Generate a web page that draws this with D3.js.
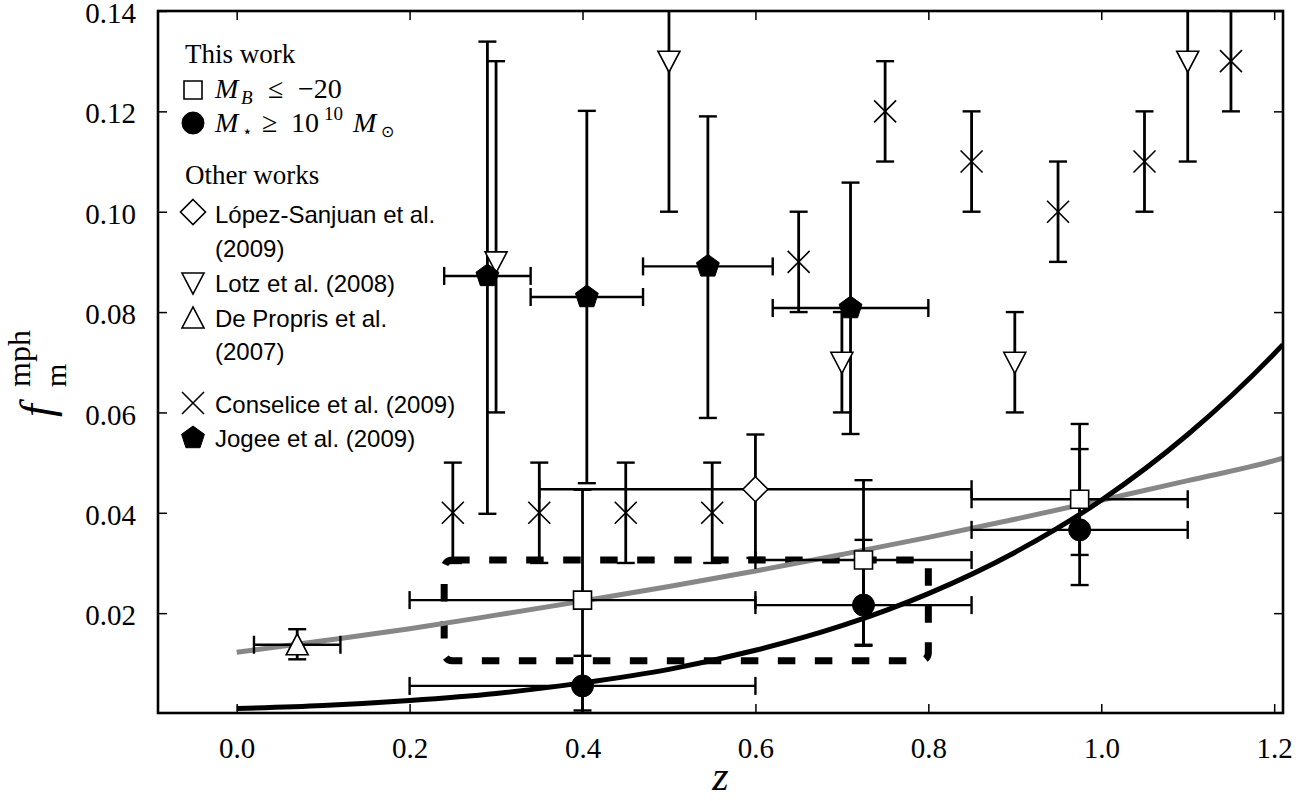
<!DOCTYPE html>
<html>
<head>
<meta charset="utf-8">
<script src="https://cdn.jsdelivr.net/npm/d3@7"></script>
<style>
  body { margin: 0; background: #fff; }
  svg { display: block; }
</style>
</head>
<body>
<svg id="chart"></svg>
<script>
// ---- data ----
var xTicks = [0.0, 0.2, 0.4, 0.6, 0.8, 1.0, 1.2];
var yTicks = [0.02, 0.04, 0.06, 0.08, 0.10, 0.12, 0.14];

// this work, M_B <= -20 (squares)
var sqZ = [0.4, 0.725, 0.975];
var sqF = [0.0226, 0.0306, 0.0427];
var sqFlo = [0.0006, 0.0137, 0.0316];
var sqFhi = [0.0446, 0.0465, 0.0577];
var sqZlo = [0.2, 0.6, 0.85];
var sqZhi = [0.6, 0.85, 1.1];

// this work, M* >= 1e10 (circles)
var ciZ = [0.4, 0.725, 0.975];
var ciF = [0.0055, 0.0216, 0.0366];
var ciFlo = [-0.0005, 0.0135, 0.0256];
var ciFhi = [0.0115, 0.0346, 0.0527];
var ciZlo = [0.2, 0.6, 0.85];
var ciZhi = [0.6, 0.85, 1.1];

// Lopez-Sanjuan et al. 2009 (diamond)
var lsZ = [0.6];
var lsF = [0.0447];
var lsFlo = [0.031];
var lsFhi = [0.0556];
var lsZlo = [0.35];
var lsZhi = [0.85];

// Lotz et al. 2008 (down triangles)
var lotzZ = [0.3, 0.5, 0.7, 0.9, 1.1];
var lotzF = [0.09, 0.13, 0.07, 0.07, 0.13];
var lotzFlo = [0.06, 0.10, 0.06, 0.06, 0.11];
var lotzFhi = [0.13, 0.16, 0.08, 0.08, 0.15];

// De Propris et al. 2007 (up triangle)
var dpZ = [0.07];
var dpF = [0.0137];
var dpFlo = [0.0108];
var dpFhi = [0.0168];
var dpZlo = [0.02];
var dpZhi = [0.12];

// Conselice et al. 2009 (crosses)
var conZ = [0.25, 0.35, 0.45, 0.55, 0.65, 0.75, 0.85, 0.95, 1.05, 1.15];
var conF = [0.04, 0.04, 0.04, 0.04, 0.09, 0.12, 0.11, 0.10, 0.11, 0.13];
var conFlo = [0.03, 0.03, 0.03, 0.03, 0.08, 0.11, 0.10, 0.09, 0.10, 0.12];
var conFhi = [0.05, 0.05, 0.05, 0.05, 0.10, 0.13, 0.12, 0.11, 0.12, 0.14];

// Jogee et al. 2009 (pentagons)
var jogZ = [0.29, 0.405, 0.545, 0.71];
var jogF = [0.0872, 0.0830, 0.0891, 0.0808];
var jogFlo = [0.0398, 0.0459, 0.0589, 0.0557];
var jogFhi = [0.1339, 0.1201, 0.1190, 0.1058];
var jogZlo = [0.24, 0.34, 0.47, 0.62];
var jogZhi = [0.34, 0.47, 0.62, 0.80];

// fitted curves, read at fixed z
var curveZ = [0.0, 0.1, 0.2, 0.3, 0.4, 0.5, 0.6, 0.7, 0.8, 0.9, 1.0, 1.1, 1.2, 1.21];
var grayFit = [0.0122, 0.0145, 0.0169, 0.0196, 0.0224, 0.0253, 0.0284, 0.0317, 0.0351, 0.0387, 0.0425, 0.0464, 0.0504, 0.0509];
var blackFit = [0.0010, 0.0016, 0.0026, 0.0040, 0.0061, 0.0088, 0.0126, 0.0175, 0.0239, 0.0321, 0.0425, 0.0556, 0.0717, 0.0735];

// dashed box
var boxZ = [0.24, 0.80];
var boxF = [0.0105, 0.0306];

// ---- chart ----
var svgWidth = 1306, svgHeight = 801;
var plot = { left: 158, right: 1283, top: 11, bottom: 713 };
var serif = "'Liberation Serif', 'Times New Roman', serif";
var sans = "'Liberation Sans', Arial, sans-serif";

var svg = d3.select('#chart')
    .attr('width', svgWidth)
    .attr('height', svgHeight)
    .style('background', '#fff');

var x = d3.scaleLinear().domain([-0.091, 1.2102]).range([plot.left, plot.right]);
var y = d3.scaleLinear().domain([0.0001, 0.14]).range([plot.bottom, plot.top]);

svg.append('defs').append('clipPath').attr('id', 'clip')
    .append('rect')
    .attr('x', plot.left).attr('y', plot.top)
    .attr('width', plot.right - plot.left)
    .attr('height', plot.bottom - plot.top);

var g = svg.append('g').attr('clip-path', 'url(#clip)');

// dashed rounded box
g.append('rect')
    .attr('x', x(boxZ[0]))
    .attr('y', y(boxF[1]))
    .attr('width', x(boxZ[1]) - x(boxZ[0]))
    .attr('height', y(boxF[0]) - y(boxF[1]))
    .attr('rx', 8)
    .attr('fill', 'none')
    .attr('stroke', '#000')
    .attr('stroke-width', 7)
    .attr('stroke-dasharray', '17.5,19.5');

var line = d3.line()
    .x(function(d) { return x(d[0]); })
    .y(function(d) { return y(d[1]); })
    .curve(d3.curveMonotoneX);

g.append('path')
    .datum(d3.zip(curveZ, grayFit))
    .attr('fill', 'none')
    .attr('stroke', '#878787')
    .attr('stroke-width', 5)
    .attr('d', line);

g.append('path')
    .datum(d3.zip(curveZ, blackFit))
    .attr('fill', 'none')
    .attr('stroke', '#000')
    .attr('stroke-width', 5)
    .attr('d', line);

// error bars: vertical always, horizontal when z-range given
var cap = 9;
function errorBars(zs, fs, flo, fhi, zlo, zhi) {
    var eb = g.append('g').attr('stroke', '#000').attr('fill', 'none');
    zs.forEach(function(z, i) {
        var cx = x(z), cy = y(fs[i]);
        eb.append('line').attr('x1', cx).attr('x2', cx)
            .attr('y1', y(flo[i])).attr('y2', y(fhi[i])).attr('stroke-width', 2.8);
        [flo[i], fhi[i]].forEach(function(v) {
            eb.append('line').attr('x1', cx - cap).attr('x2', cx + cap)
                .attr('y1', y(v)).attr('y2', y(v)).attr('stroke-width', 2.4);
        });
        if (zlo) {
            eb.append('line').attr('x1', x(zlo[i])).attr('x2', x(zhi[i]))
                .attr('y1', cy).attr('y2', cy).attr('stroke-width', 2.4);
            [zlo[i], zhi[i]].forEach(function(v) {
                eb.append('line').attr('x1', x(v)).attr('x2', x(v))
                    .attr('y1', cy - cap).attr('y2', cy + cap).attr('stroke-width', 2.4);
            });
        }
    });
}

errorBars(conZ, conF, conFlo, conFhi);
errorBars(lotzZ, lotzF, lotzFlo, lotzFhi);
errorBars(jogZ, jogF, jogFlo, jogFhi, jogZlo, jogZhi);
errorBars(dpZ, dpF, dpFlo, dpFhi, dpZlo, dpZhi);
errorBars(lsZ, lsF, lsFlo, lsFhi, lsZlo, lsZhi);
errorBars(sqZ, sqF, sqFlo, sqFhi, sqZlo, sqZhi);
errorBars(ciZ, ciF, ciFlo, ciFhi, ciZlo, ciZhi);

// marker shapes
function markerPath(kind) {
    if (kind === 'square') return 'M-9,-9H9V9H-9Z';
    if (kind === 'circle') return d3.symbol(d3.symbolCircle, Math.PI * 11 * 11)();
    if (kind === 'diamond') return 'M0,-12.5L12.5,0L0,12.5L-12.5,0Z';
    if (kind === 'down') return 'M-11,-10L11,-10L0,11Z';
    if (kind === 'up') return 'M-11,10L11,10L0,-11Z';
    if (kind === 'cross') return 'M-11,-11L11,11M-11,11L11,-11';
    if (kind === 'pentagon') {
        var pts = d3.range(5).map(function(k) {
            var a = (-90 + 72 * k) * Math.PI / 180;
            return [12 * Math.cos(a), 12 * Math.sin(a)];
        });
        return 'M' + pts.join('L') + 'Z';
    }
}
var markerStyle = {
    square:   { fill: '#fff', sw: 1.6 },
    circle:   { fill: '#000', sw: 1 },
    diamond:  { fill: '#fff', sw: 1.6 },
    down:     { fill: '#fff', sw: 1.6 },
    up:       { fill: '#fff', sw: 1.6 },
    cross:    { fill: 'none', sw: 1.6 },
    pentagon: { fill: '#000', sw: 1 }
};

function markers(parent, zs, fs, kind) {
    parent.selectAll(null)
        .data(d3.zip(zs, fs))
        .enter().append('path')
        .attr('transform', function(d) { return 'translate(' + x(d[0]) + ',' + y(d[1]) + ')'; })
        .attr('d', markerPath(kind))
        .attr('fill', markerStyle[kind].fill)
        .attr('stroke', '#000')
        .attr('stroke-width', markerStyle[kind].sw);
}

markers(g, conZ, conF, 'cross');
markers(g, lotzZ, lotzF, 'down');
markers(g, jogZ, jogF, 'pentagon');
markers(g, dpZ, dpF, 'up');
markers(g, lsZ, lsF, 'diamond');
markers(g, sqZ, sqF, 'square');
markers(g, ciZ, ciF, 'circle');

// ---- axes (ticks pointing inward on all four sides) ----
function styleAxis(a) {
    a.select('.domain').remove();
    a.selectAll('.tick line').attr('stroke', '#000').attr('stroke-width', 1.5);
    a.selectAll('.tick text').attr('fill', '#000').style('font-family', serif).style('font-size', '29px');
}

svg.append('g')
    .attr('transform', 'translate(0,' + plot.bottom + ')')
    .call(d3.axisBottom(x).tickValues(xTicks).tickFormat(d3.format('.1f')).tickSizeInner(-9).tickSizeOuter(0).tickPadding(24))
    .call(styleAxis);
svg.append('g')
    .attr('transform', 'translate(0,' + plot.top + ')')
    .call(d3.axisTop(x).tickValues(xTicks).tickFormat('').tickSizeInner(-9).tickSizeOuter(0))
    .call(styleAxis);
svg.append('g')
    .attr('transform', 'translate(' + plot.left + ',0)')
    .call(d3.axisLeft(y).tickValues(yTicks).tickFormat(d3.format('.2f')).tickSizeInner(-9).tickSizeOuter(0).tickPadding(22))
    .call(styleAxis)
    .selectAll('.tick text').attr('dy', '0.4em');
svg.append('g')
    .attr('transform', 'translate(' + plot.right + ',0)')
    .call(d3.axisRight(y).tickValues(yTicks).tickFormat('').tickSizeInner(-9).tickSizeOuter(0))
    .call(styleAxis);

svg.append('rect')
    .attr('x', plot.left).attr('y', plot.top)
    .attr('width', plot.right - plot.left)
    .attr('height', plot.bottom - plot.top)
    .attr('fill', 'none')
    .attr('stroke', '#000')
    .attr('stroke-width', 2.6);

// axis labels
svg.append('text')
    .attr('x', (plot.left + plot.right) / 2)
    .attr('y', 790)
    .attr('text-anchor', 'middle')
    .style('font-family', serif)
    .style('font-style', 'italic')
    .style('font-size', '42px')
    .text('z');

var yl = svg.append('g').attr('transform', 'translate(52,417) rotate(-90)')
    .style('font-family', serif);
yl.append('text').attr('x', 0).attr('y', 0)
    .style('font-style', 'italic').style('font-size', '46px').text('f');
yl.append('text').attr('x', 30).attr('y', -22)
    .style('font-size', '32px').text('mph');
yl.append('text').attr('x', 30).attr('y', 14)
    .style('font-size', '30px').text('m');

// ---- legend ----
var leg = svg.append('g');
var mx = 193, tx = 215;

function legText(txt, yy, font, size) {
    leg.append('text').attr('x', tx).attr('y', yy)
        .style('font-family', font).style('font-size', size + 'px').text(txt);
}
function legMarker(kind, yy) {
    leg.append('path')
        .attr('transform', 'translate(' + mx + ',' + yy + ')')
        .attr('d', markerPath(kind))
        .attr('fill', markerStyle[kind].fill)
        .attr('stroke', '#000')
        .attr('stroke-width', markerStyle[kind].sw);
}
function mathText(parts, yy) {
    parts.forEach(function(p) {
        leg.append('text').attr('x', p[0]).attr('y', yy + (p[3] || 0))
            .style('font-family', serif)
            .style('font-style', p[4] ? 'italic' : 'normal')
            .style('font-size', p[2] + 'px')
            .text(p[1]);
    });
}

leg.append('text').attr('x', 185).attr('y', 63)
    .style('font-family', serif).style('font-size', '27px').text('This work');

legMarker('square', 90);
mathText([[215, 'M', 28, 0, true], [241, 'B', 19, 6, true], [268, '\u2264', 28], [298, '\u221220', 28]], 98);

legMarker('circle', 123);
mathText([[215, 'M', 28, 0, true], [242, '\u22c6', 17, 5], [262, '\u2265', 28], [291, '10', 28],
          [324, '10', 19, -12], [353, 'M', 28, 0, true], [381, '\u2299', 16, 5]], 132);

leg.append('text').attr('x', 185).attr('y', 184)
    .style('font-family', serif).style('font-size', '27px').text('Other works');

legMarker('diamond', 212);
legText('L\u00f3pez-Sanjuan et al.', 223, sans, 24);
legText('(2009)', 257, sans, 24);
legMarker('down', 283);
legText('Lotz et al. (2008)', 292, sans, 24);
legMarker('up', 318);
legText('De Propris et al.', 327, sans, 24);
legText('(2007)', 360, sans, 24);
legMarker('cross', 403);
legText('Conselice et al. (2009)', 413, sans, 24);
legMarker('pentagon', 438);
legText('Jogee et al. (2009)', 447, sans, 24);
</script>
</body>
</html>
